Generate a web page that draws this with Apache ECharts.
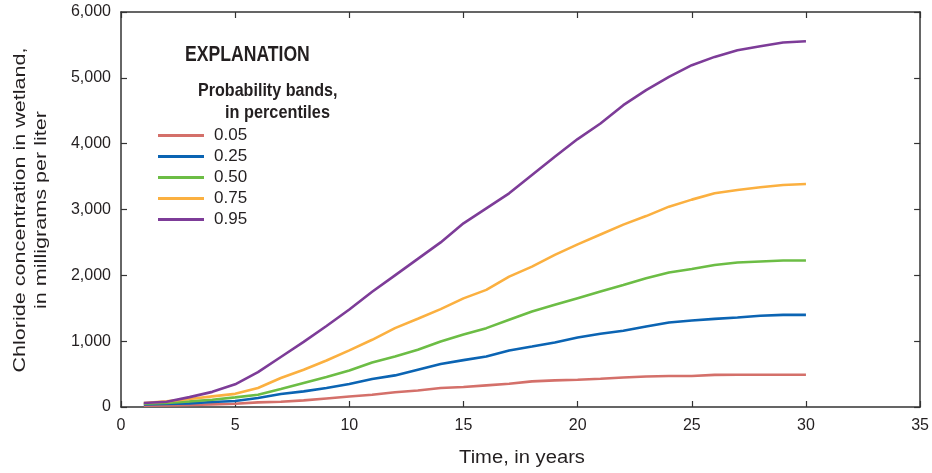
<!DOCTYPE html>
<html>
<head>
<meta charset="utf-8">
<script src="https://cdn.jsdelivr.net/npm/echarts@6/dist/echarts.min.js"></script>
<style>html,body{margin:0;padding:0;background:#fff}#c{width:932px;height:473px}</style>
</head>
<body>
<div id="c"></div>
<script>
const years = [1,2,3,4,5,6,7,8,9,10,11,12,13,14,15,16,17,18,19,20,21,22,23,24,25,26,27,28,29,30];
const p05 = [20,25,30,40,50,70,80,100,130,160,185,225,250,288,303,328,353,389,404,414,429,449,464,470,472,488,490,490,490,490];
const p25 = [40,45,55,75,90,136,197,237,288,350,425,480,566,652,712,768,859,919,980,1056,1112,1157,1223,1283,1315,1339,1359,1385,1400,1400];
const p50 = [50,60,85,111,146,187,273,364,455,555,677,768,869,995,1100,1198,1324,1450,1552,1653,1754,1855,1957,2042,2095,2158,2194,2210,2225,2225];
const p75 = [60,85,121,161,200,288,440,566,707,860,1021,1198,1340,1486,1650,1779,1981,2133,2310,2470,2620,2770,2900,3043,3150,3246,3296,3337,3372,3387];
const p95 = [60,80,150,230,345,530,760,990,1230,1480,1750,2000,2250,2500,2790,3018,3246,3523,3801,4070,4307,4585,4813,5015,5192,5318,5419,5480,5536,5556];
const seriesNames = ['0.05','0.25','0.50','0.75','0.95'];
const seriesData = [p05,p25,p50,p75,p95];
const colors = ['#D4706A','#0B64B3','#6CBD45','#FBB040','#7D3C98'];
const xTicks = [0,5,10,15,20,25,30,35];
const yTicks = [0,1000,2000,3000,4000,5000,6000];
const xTitle = 'Time, in years';
const yTitle1 = 'Chloride concentration in wetland,';
const yTitle2 = 'in milligrams per liter';
const legendTitle = 'EXPLANATION';
const legendSub1 = 'Probability bands,';
const legendSub2 = 'in percentiles';

const fam = '"Liberation Sans", Arial, sans-serif';
const ink = '#231F20';
const axisCol = '#333333';

const chart = echarts.init(document.getElementById('c'), null, {renderer:'canvas'});
const axBase = {
  axisLine:{show:true, onZero:false, lineStyle:{color:axisCol,width:1.5}},
  axisTick:{show:true, inside:true, length:6, lineStyle:{color:axisCol,width:1.2}},
  splitLine:{show:false}
};
chart.setOption({
  animation:false,
  backgroundColor:'#ffffff',
  color: colors,
  grid:{left:121, right:8, top:12, bottom:66, containLabel:false},
  xAxis:[
    Object.assign({type:'value', min:xTicks[0], max:xTicks[xTicks.length-1], interval:5, position:'bottom',
      axisLabel:{show:true, margin:11, fontFamily:fam, fontSize:16, color:ink}}, axBase),
    Object.assign({type:'value', min:xTicks[0], max:xTicks[xTicks.length-1], interval:5, position:'top',
      axisLabel:{show:false}}, axBase)
  ],
  yAxis:[
    Object.assign({type:'value', min:yTicks[0], max:yTicks[yTicks.length-1], interval:1000, position:'left',
      axisLabel:{show:true, margin:10, fontFamily:fam, fontSize:16, color:ink,
        formatter:v=>v.toLocaleString('en-US')}}, axBase),
    Object.assign({type:'value', min:yTicks[0], max:yTicks[yTicks.length-1], interval:1000, position:'right',
      axisLabel:{show:false}}, axBase)
  ],
  legend:{
    orient:'vertical', left:158, top:127, padding:0, itemWidth:46, itemHeight:3, itemGap:4,
    icon:'rect',
    data:seriesNames,
    textStyle:{fontFamily:fam, fontSize:17, lineHeight:17, color:ink, padding:[0,0,0,5]}
  },
  graphic:[
    {type:'text', x:185, y:44, scaleX:0.8, style:{text:legendTitle, font:'bold 22px '+fam, fill:ink}},
    {type:'text', x:198, y:81, scaleX:0.87, style:{text:legendSub1, font:'bold 18.5px '+fam, fill:ink}},
    {type:'text', x:225, y:103, scaleX:0.88, style:{text:legendSub2, font:'bold 18.5px '+fam, fill:ink}},
    {type:'text', x:522, y:458, scaleX:1.12, style:{text:xTitle, font:'18px '+fam, fill:ink, align:'center', verticalAlign:'middle'}},
    {type:'text', x:20, y:210, rotation:Math.PI/2, scaleX:1.27, style:{text:yTitle1, font:'17px '+fam, fill:ink, align:'center', verticalAlign:'middle'}},
    {type:'text', x:41, y:210, rotation:Math.PI/2, scaleX:1.27, style:{text:yTitle2, font:'17px '+fam, fill:ink, align:'center', verticalAlign:'middle'}}
  ],
  series: seriesNames.map((n,i)=>({
    name:n, type:'line', symbol:'none', smooth:false,
    data: years.map((y,j)=>[y, seriesData[i][j]]),
    lineStyle:{width:2.6, color:colors[i]}, itemStyle:{color:colors[i]}
  }))
});
</script>
</body>
</html>
